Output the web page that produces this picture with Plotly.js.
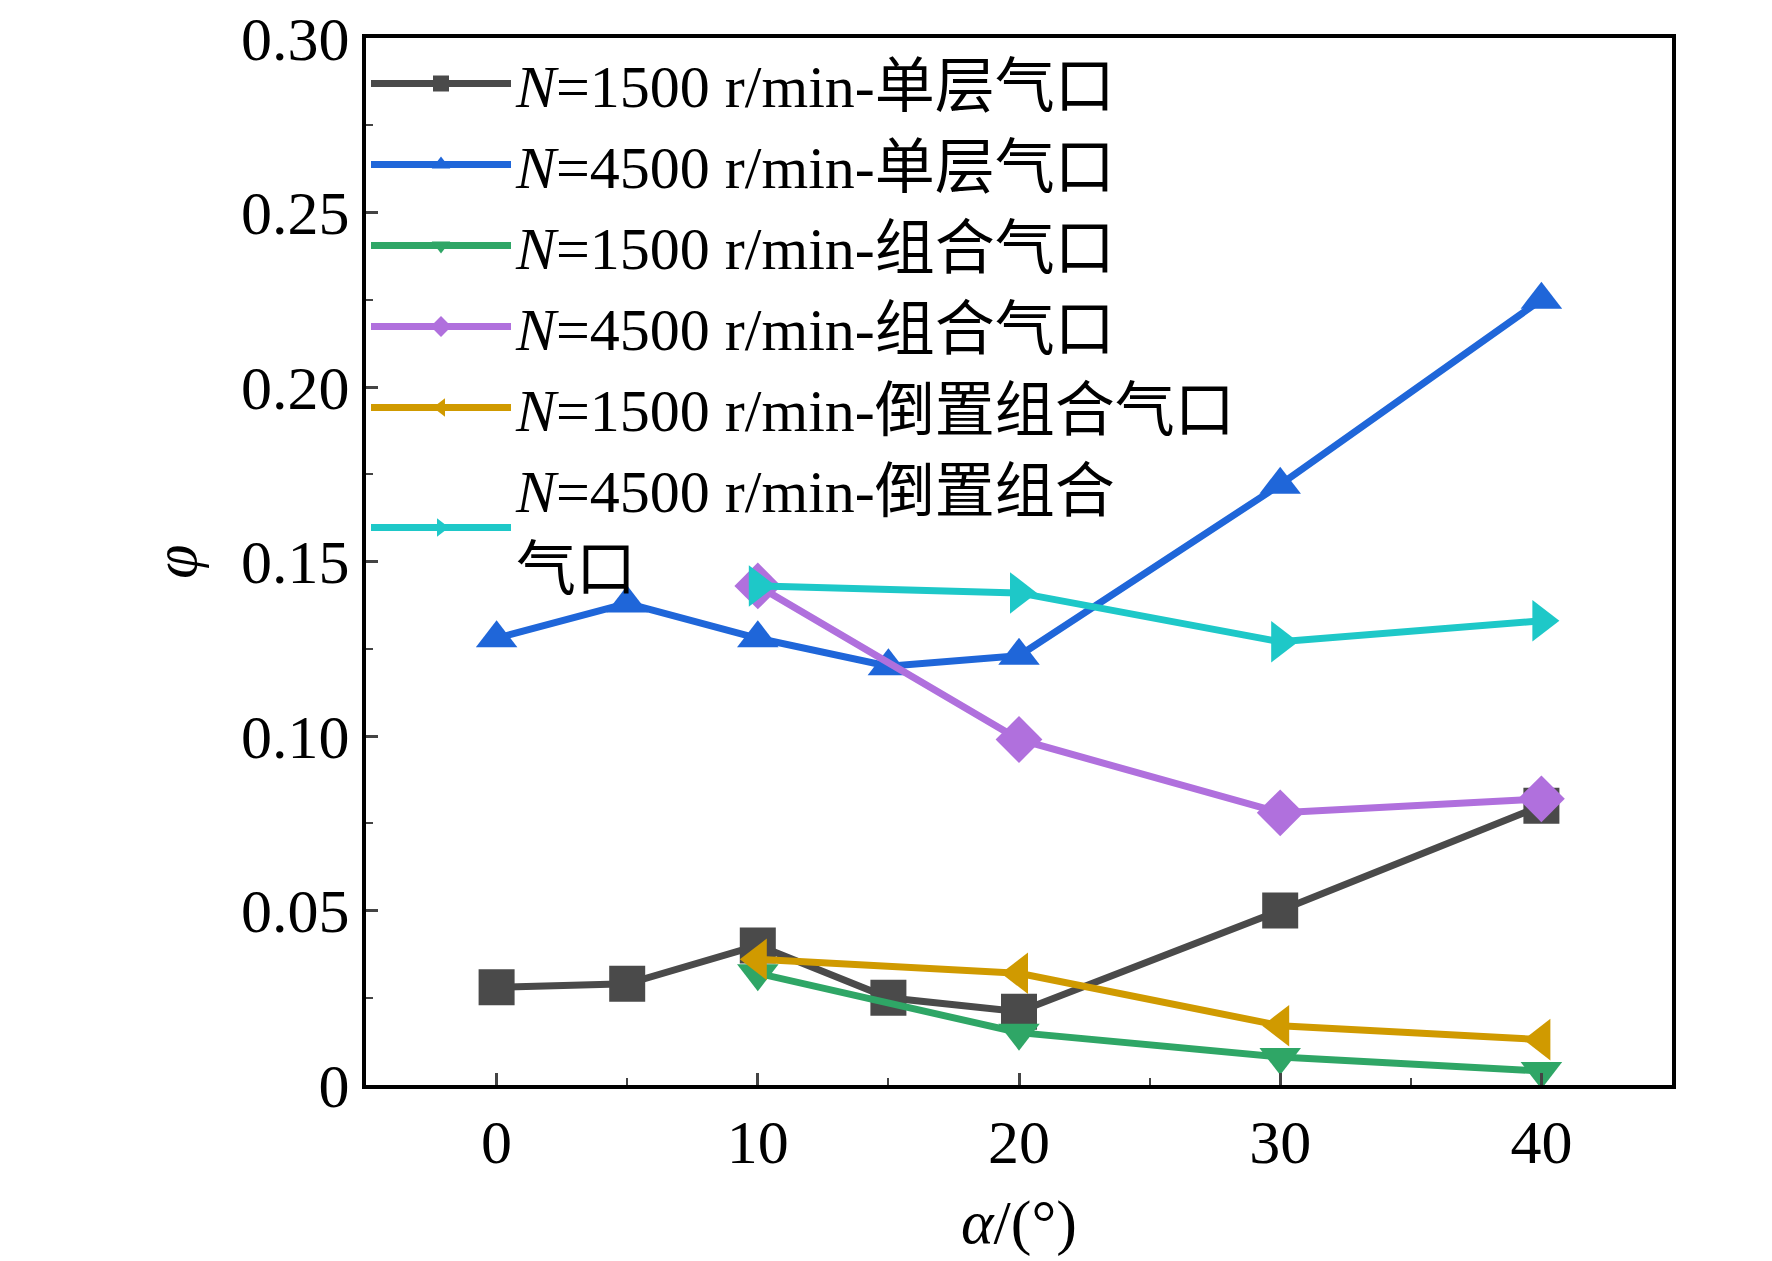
<!DOCTYPE html>
<html><head><meta charset="utf-8">
<script src="https://cdn.plot.ly/plotly-3.0.1.min.js"></script>
<style>body{margin:0;background:#fff}</style></head>
<body><div id="chart" style="width:1772px;height:1261px"></div>
<script>
const alphaAll = [0, 5, 10, 15, 20, 30, 40];
const alphaComb = [10, 20, 30, 40];
const single1500 = [0.028, 0.029, 0.040, 0.025, 0.021, 0.050, 0.080];
const single4500 = [0.128, 0.138, 0.128, 0.120, 0.123, 0.172, 0.225];
const comb1500 = [0.032, 0.015, 0.008, 0.004];
const comb4500 = [0.143, 0.099, 0.078, 0.082];
const inv1500 = [0.036, 0.032, 0.017, 0.013];
const inv4500 = [0.143, 0.141, 0.127, 0.133];

const names = [
  '<i>N</i>=1500 r/min-单层气口',
  '<i>N</i>=4500 r/min-单层气口',
  '<i>N</i>=1500 r/min-组合气口',
  '<i>N</i>=4500 r/min-组合气口',
  '<i>N</i>=1500 r/min-倒置组合气口',
  '<i>N</i>=4500 r/min-倒置组合<br>气口'
];

function series(x, y, name, color, symbol) {
  return {x: x, y: y, name: name, type: 'scatter', mode: 'lines+markers',
    line: {color: color, width: 7},
    marker: {color: color, symbol: symbol, size: 36}};
}

const data = [
  series(alphaAll, single1500, names[0], '#4a4a4a', 'square'),
  series(alphaAll, single4500, names[1], '#1f66d9', 'triangle-up'),
  series(alphaComb, comb1500, names[2], '#2fa666', 'triangle-down'),
  series(alphaComb, comb4500, names[3], '#b070dd', 'diamond'),
  series(alphaComb, inv1500, names[4], '#d09a00', 'triangle-left'),
  series(alphaComb, inv4500, names[5], '#1ec8c8', 'triangle-right')
];

const axisFont = {family: 'Liberation Serif, Times New Roman, serif', size: 62, color: '#000'};

const layout = {
  width: 1772, height: 1261,
  margin: {l: 366, r: 100, t: 38, b: 176},
  paper_bgcolor: '#fff', plot_bgcolor: '#fff',
  font: axisFont,
  showlegend: true,
  legend: {x: 0.0, y: 1.0, xanchor: 'left', yanchor: 'top', bgcolor: 'rgba(0,0,0,0)',
    font: {family: 'Liberation Serif, Noto Sans CJK SC, serif', size: 60, color: '#000'},
    itemwidth: 140, tracegroupgap: 0},
  xaxis: {range: [-5, 45], tickvals: [0, 10, 20, 30, 40], ticks: 'inside', ticklen: 12, tickwidth: 3,
    minor: {dtick: 5, tick0: 0, ticks: 'inside', ticklen: 7, tickwidth: 2},
    showgrid: false, zeroline: false, showline: true, linewidth: 4, linecolor: '#000', mirror: true,
    tickfont: axisFont,
    title: {text: '<i>α</i>/(°)', font: axisFont, standoff: 25}},
  yaxis: {range: [0, 0.30], tickvals: [0, 0.05, 0.10, 0.15, 0.20, 0.25, 0.30],
    ticktext: ['0', '0.05', '0.10', '0.15', '0.20', '0.25', '0.30'],
    ticks: 'inside', ticklen: 12, tickwidth: 3,
    minor: {dtick: 0.025, ticks: 'inside', ticklen: 7, tickwidth: 2},
    showgrid: false, zeroline: false, showline: true, linewidth: 4, linecolor: '#000', mirror: true,
    tickfont: axisFont,
    title: {text: '<i>φ</i>', font: axisFont, standoff: 25}}
};

Plotly.newPlot('chart', data, layout, {displayModeBar: false});
</script></body></html>
